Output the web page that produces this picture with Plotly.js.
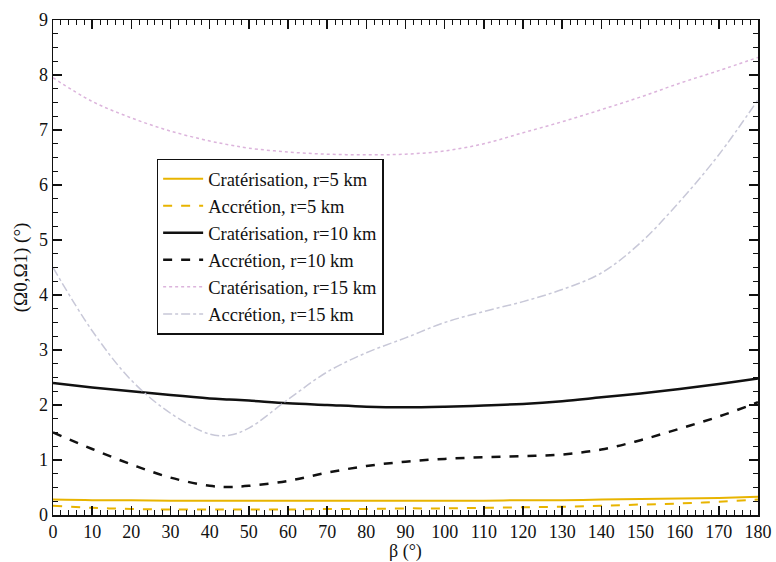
<!DOCTYPE html>
<html><head><meta charset="utf-8">
<script src="https://cdn.plot.ly/plotly-3.0.1.min.js"></script>
<style>body{margin:0;background:#fff}</style>
</head><body><div id="chart" style="width:776px;height:562px"></div>
<script>
const beta = [0,10,20,30,40,45,50,60,70,80,90,100,110,120,130,140,150,160,170,180];
const crat5 = [0.28,0.27,0.27,0.26,0.26,0.26,0.26,0.26,0.26,0.26,0.26,0.26,0.26,0.27,0.27,0.28,0.29,0.30,0.31,0.33];
const acc5  = [0.17,0.13,0.11,0.10,0.10,0.10,0.10,0.10,0.11,0.11,0.12,0.12,0.13,0.14,0.15,0.17,0.19,0.21,0.24,0.28];
const crat10 = [2.40,2.32,2.25,2.18,2.12,2.10,2.08,2.03,2.00,1.97,1.96,1.97,1.99,2.02,2.07,2.14,2.21,2.29,2.38,2.48];
const acc10  = [1.50,1.20,0.92,0.68,0.53,0.51,0.53,0.62,0.77,0.89,0.97,1.02,1.05,1.07,1.10,1.19,1.36,1.57,1.79,2.05];
const crat15 = [7.95,7.52,7.22,6.98,6.80,6.73,6.67,6.60,6.56,6.55,6.56,6.62,6.75,6.95,7.15,7.37,7.60,7.85,8.08,8.32];
const acc15  = [4.50,3.35,2.45,1.85,1.47,1.45,1.58,2.10,2.60,2.95,3.22,3.50,3.70,3.88,4.10,4.40,4.95,5.70,6.55,7.55];
const names = ["Cratérisation, r=5 km","Accrétion, r=5 km","Cratérisation, r=10 km","Accrétion, r=10 km","Cratérisation, r=15 km","Accrétion, r=15 km"];
const xTitle = 'β (°)';
const yTitle = '(Ω0,Ω1) (°)';

const styles = [
  {color:'#e8b400', width:2, dash:'solid'},
  {color:'#e8b400', width:2, dash:'dash'},
  {color:'#111111', width:2.5, dash:'solid'},
  {color:'#111111', width:2.5, dash:'dash'},
  {color:'#dcb4dc', width:1.5, dash:'dot'},
  {color:'#c8c8d8', width:1.5, dash:'dashdot'}
];
const series = [crat5, acc5, crat10, acc10, crat15, acc15];
const traces = series.map((y,i)=>({x:beta, y:y, name:names[i], type:'scatter', mode:'lines', line:Object.assign({shape:'spline'}, styles[i])}));

const fam = 'Liberation Serif, Times New Roman, serif';
const font = {family:fam, color:'#111', size:18};
const axisCommon = {showline:true, linecolor:'#111', linewidth:1.5, mirror:'allticks', ticks:'inside', ticklen:9, tickwidth:1.5, tickcolor:'#111', showgrid:false, zeroline:false, tickfont:{family:fam, color:'#111', size:18},
  minor:{ticks:'inside', ticklen:5, tickwidth:1, tickcolor:'#111'}};
const layout = {
  width:776, height:562,
  margin:{l:53, r:18, t:20, b:47},
  paper_bgcolor:'#fff', plot_bgcolor:'#fff',
  font:font,
  showlegend:true,
  legend:{x:0.147, y:0.72, xanchor:'left', yanchor:'top', bordercolor:'#111', borderwidth:1.5, bgcolor:'#fff', font:{family:fam, size:18.5, color:'#111'}, tracegroupgap:0, itemwidth:40},
  xaxis:Object.assign({}, axisCommon, {range:[0,180], dtick:10, tick0:0, minor:Object.assign({}, axisCommon.minor, {dtick:2})}),
  yaxis:Object.assign({}, axisCommon, {range:[0,9], dtick:1, tick0:0, minor:Object.assign({}, axisCommon.minor, {dtick:0.25}), title:{text:yTitle, font:{family:fam, color:'#111', size:19}, standoff:6}}),
  annotations:[{text:xTitle, xref:'paper', yref:'paper', x:0.5, y:0, xanchor:'center', yanchor:'top', yshift:-25, showarrow:false, borderpad:0, font:{family:fam, color:'#111', size:18}}]
};
Plotly.newPlot('chart', traces, layout, {displayModeBar:false, staticPlot:true});
</script></body></html>
